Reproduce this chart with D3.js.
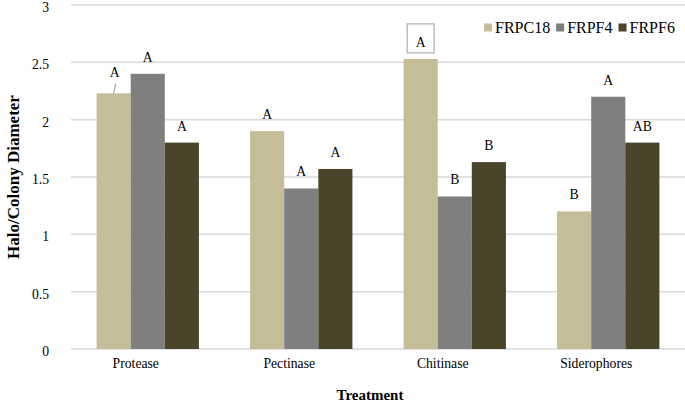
<!DOCTYPE html>
<html>
<head>
<meta charset="utf-8">
<script src="https://cdn.jsdelivr.net/npm/d3@7"></script>
<style>
body { margin:0; background:#fff; }
text { font-family:"Liberation Serif","Times New Roman","DejaVu Serif",serif; }
.grid line { stroke:#d9d9d9; stroke-width:1.5; }
.tick-label { font-size:13.7px; fill:#000; }
.axis-title { font-size:15px; font-weight:bold; fill:#000; }
.ytitle { font-size:17px; }
.label { font-size:13.7px; fill:#000; }
.legend text { font-size:16px; fill:#000; }
</style>
</head>
<body>
<svg></svg>
<script>
// chart values
var categories=["Protease","Pectinase","Chitinase","Siderophores"];
var seriesNames=["FRPC18","FRPF4","FRPF6"];
var FRPC18=[2.23,1.9,2.53,1.2];
var FRPF4=[2.4,1.4,1.33,2.2];
var FRPF6=[1.8,1.57,1.63,1.8];
var lettersFRPC18=["A","A","A","B"];
var lettersFRPF4=["A","A","B","A"];
var lettersFRPF6=["A","A","B","AB"];
var yTicks=[0,0.5,1,1.5,2,2.5,3];
var colors=["#c4bd97","#7f7f7f","#4a452a"];

var width=685, height=406;
var plotLeft=71, plotRight=685, plotTop=5, plotBottom=349;
var serif="'Liberation Serif','Times New Roman','DejaVu Serif',serif";

var svg=d3.select("svg").attr("width",width).attr("height",height);

var series=[FRPC18,FRPF4,FRPF6];
var letters=[lettersFRPC18,lettersFRPF4,lettersFRPF6];

var x=d3.scaleBand().domain(categories).range([plotLeft,plotRight]).padding(0);
var xs=d3.scaleBand().domain(seriesNames).
	range([x.bandwidth()/6,x.bandwidth()*5/6]).padding(0);
var y=d3.scaleLinear().domain([0,3]).range([plotBottom,plotTop]);

// gridlines
svg.append("g").classed("grid",true).selectAll("line").data(yTicks).
	enter().append("line").
	attr("x1",plotLeft).attr("x2",plotRight).
	attr("y1",function(d) {return y(d);}).
	attr("y2",function(d) {return y(d);});

// y tick labels
svg.selectAll(".ytick").data(yTicks).enter().append("text").
	classed("tick-label",true).
	attr("font-family",serif).
	attr("x",49).attr("y",function(d) {return y(d)+7;}).
	attr("text-anchor","end").
	text(function(d) {return d;});

// flatten into bars
var bars=[];
categories.forEach(function(c,i) {
	seriesNames.forEach(function(s,j) {
		bars.push({cat:c,ser:s,j:j,value:series[j][i],letter:letters[j][i]});
	});
});

svg.selectAll(".bar").data(bars).enter().append("rect").
	classed("bar",true).
	attr("x",function(d) {return x(d.cat)+xs(d.ser);}).
	attr("y",function(d) {return y(d.value);}).
	attr("width",xs.bandwidth()).
	attr("height",function(d) {return y(0)-y(d.value);}).
	attr("fill",function(d) {return colors[d.j];});

// data labels
function labelX(d) {
	return x(d.cat)+xs(d.ser)+xs.bandwidth()/2;
}
function labelY(d) {
	var base=y(d.value)-12;
	// protease FRPC18 label was pulled up with a leader line
	if (d.cat=="Protease" && d.ser=="FRPC18") base-=4.5;
	return base;
}

// boxed label on chitinase
bars.filter(function(d) {return d.cat=="Chitinase" && d.ser=="FRPC18";}).forEach(function(d) {
	svg.append("rect").
		attr("x",labelX(d)-13.5).attr("y",labelY(d)-23).
		attr("width",27).attr("height",29).
		attr("fill","#fff").attr("stroke","#bfbfbf").attr("stroke-width",1.5);
});

// leader line
bars.filter(function(d) {return d.cat=="Protease" && d.ser=="FRPC18";}).forEach(function(d) {
	svg.append("line").
		attr("x1",labelX(d)+2).attr("y1",labelY(d)+6.5).
		attr("x2",labelX(d)).attr("y2",y(d.value)).
		attr("stroke","#a6a6a6").attr("stroke-width",1.2);
});

svg.selectAll(".label").data(bars).enter().append("text").
	classed("label",true).
	attr("font-family",serif).
	attr("x",function(d) {
		return labelX(d)+(d.cat=="Protease" && d.ser=="FRPC18" ? 1 : 0);
	}).
	attr("y",labelY).
	attr("text-anchor","middle").
	text(function(d) {return d.letter;});

// category labels
svg.selectAll(".xtick").data(categories).enter().append("text").
	classed("tick-label",true).
	attr("font-family",serif).
	attr("x",function(d) {return x(d)+x.bandwidth()/2-12;}).
	attr("y",368).
	attr("text-anchor","middle").
	text(function(d) {return d;});

// axis titles
svg.append("text").classed("axis-title",true).
	attr("font-family",serif).
	attr("x",370).attr("y",400).attr("text-anchor","middle").
	text("Treatment");
svg.append("text").classed("axis-title ytitle",true).
	attr("font-family",serif).
	attr("transform","translate(19,"+((plotTop+plotBottom)/2)+") rotate(-90)").
	attr("text-anchor","middle").
	text("Halo/Colony Diameter");

// legend
var legend=svg.append("g").classed("legend",true);
var lx=484;
seriesNames.forEach(function(s,j) {
	legend.append("rect").attr("x",lx).attr("y",23.5).attr("width",8).attr("height",8).
		attr("fill",colors[j]);
	var t=legend.append("text").attr("font-family",serif).
		attr("x",lx+11).attr("y",33).text(s);
	lx=lx+11+t.node().getComputedTextLength()+6;
});
</script>
</body>
</html>
